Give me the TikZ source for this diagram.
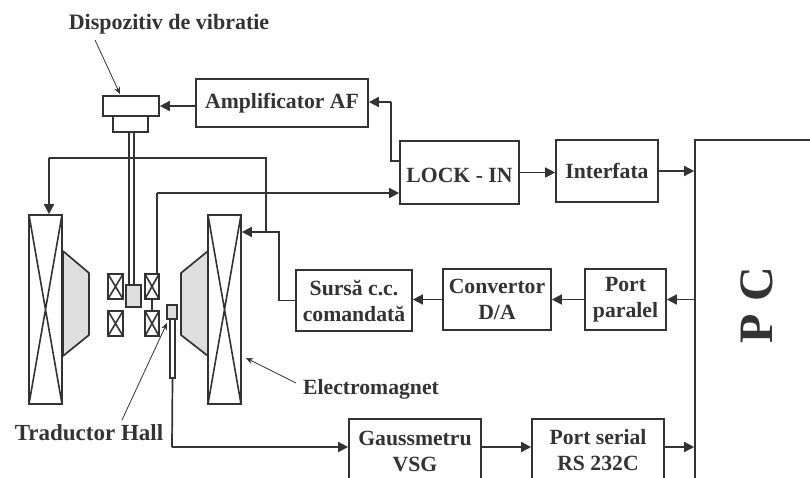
\documentclass[tikz,border=0pt]{standalone}
\usepackage{fontspec}
\setmainfont{Liberation Serif}
\usetikzlibrary{arrows.meta,calc}
\definecolor{ink}{HTML}{333333}
\definecolor{polegray}{HTML}{DEDEDE}
\tikzset{
  ink line/.style={draw=ink,line width=1.7pt},
  blockbox/.style={ink line,rectangle,inner sep=0pt,align=center,font=\bfseries\fontsize{21.7}{26}\selectfont,text=ink},
  label text/.style={inner sep=0pt,font=\bfseries\fontsize{22}{24}\selectfont,text=ink},
  plain box/.style={ink line,rectangle,inner sep=0pt,fill=white},
  gray box/.style={ink line,rectangle,inner sep=0pt,fill=polegray},
  xbox/.style={ink line,rectangle,inner sep=0pt,fill=white,path picture={
     \draw[ink,line width=1.6pt] (path picture bounding box.north west)--(path picture bounding box.south east)
       (path picture bounding box.north east)--(path picture bounding box.south west);}},
  wire/.style={draw=ink,line width=1.7pt,-{Triangle[length=10pt,width=10pt]}},
  plainwire/.style={draw=ink,line width=1.7pt},
  thin arrow/.style={draw=ink,line width=0.8pt,-{Stealth[length=7pt,width=6pt]}},
  pole/.style={draw=ink,line width=1.7pt,fill=polegray,line join=round}
}
\newcommand{\bx}[7][blockbox]{% style, name, x0,y0,x1,y1, text
  \node[#1,minimum width={#5pt-#3pt},minimum height={#6pt-#4pt}] (#2) at ({(#3+#5)/2},{(#4+#6)/2}) {#7};}
\begin{document}
\begin{tikzpicture}[x=1pt,y=-1pt]
\useasboundingbox (0,0) rectangle (810,477);
\fill[white] (0,0) rectangle (810,477);
\clip (0,0) rectangle (810,477);
% poles
\draw[pole] (63,251) -- (89,273) -- (89,335) -- (63,356) -- cycle;
\draw[pole] (208,251) -- (181,273) -- (181,335) -- (208,356) -- cycle;
% rod
\bx[plain box]{rod}{129}{132}{134}{285}{}
% blocks
\bx{amp}{196}{79}{368}{127}{Amplificator AF}
\bx{lock}{400}{141}{519}{204}{\rule{0pt}{21pt}LOCK - IN}
\bx{inter}{556}{140}{658}{202}{Interfata}
\bx{pc}{695}{140}{840}{510}{}
\bx{sursa}{296}{270}{412}{331}{Sursă c.c.\\comandată}
\bx{conv}{443}{269}{551}{330}{Convertor\\D/A}
\bx{port}{585}{269}{666}{330}{Port\\paralel}
\bx{gauss}{349}{419}{481}{484}{Gaussmetru\\VSG}
\bx{serial}{532}{419}{664}{482}{Port serial\\RS 232C}
\node[inner sep=0pt,rotate=90,font=\bfseries\fontsize{48}{48}\selectfont,text=ink] (pctext) at (757,305) {P C};
% vibration device
\bx[plain box]{vibb}{113}{116}{148}{132}{}
\bx[plain box]{vibt}{103}{96}{159}{116}{}
% electromagnet coils
\bx[xbox]{coilL}{29}{215}{62}{404}{}
\bx[xbox]{coilR}{208}{215}{241}{404}{}
% small coils
\bx[xbox]{cLa}{108}{274}{123}{299}{}
\bx[xbox]{cLb}{108}{311}{123}{336}{}
\bx[xbox]{cRa}{145}{274}{159}{299}{}
\bx[xbox]{cRb}{145}{311}{159}{336}{}
\bx[gray box]{sample}{126}{285}{141}{307}{}
\bx[plain box]{stem}{170}{319}{175}{378}{}
\bx[gray box]{hall}{167}{305}{177}{319}{}
% labels
\node[label text] (dv) at (169,24) {Dispozitiv de vibratie};
\node[label text,font=\bfseries\fontsize{21.7}{24}\selectfont] (em) at (371,389) {Electromagnet};
\node[label text,font=\bfseries\fontsize{23}{24}\selectfont] (th) at (89,433) {Traductor Hall};
% connector helpers
\coordinate (jr) at (279,232);
\coordinate (jv) at (266,232);
\coordinate (wt) at (266,158);
\coordinate (wl) at (49,158);
\coordinate (lockup) at (391,161);
\coordinate (ampin) at (391,102);
\coordinate (ltop) at (157,193);
\coordinate (gin) at (172,447);
% connectors
\draw[wire] (amp.west |- vibt.east) -- (vibt.east);
\draw[wire] (sursa.west) -| (jr) -- (jr -| coilR.east);
\draw[plainwire] (jv) -- (wt) -- (wl);
\draw[wire] (wl) -- (wl |- coilL.north);
\draw[plainwire] (lock.west |- lockup) -- (lockup) -- (ampin);
\draw[wire] (ampin) -- (ampin -| amp.east);
\draw[plainwire] (cRa.north -| ltop) -- (ltop);
\draw[wire] (ltop) -- (ltop -| lock.west);
\draw[plainwire] (cRa.south) -- (cRb.north);
\draw[wire] (lock.east) -- (lock.east -| inter.west);
\draw[wire] (inter.east) -- (inter.east -| pc.west);
\draw[wire] (pc.west |- port.east) -- (port.east);
\draw[wire] (port.west) -- (port.west -| conv.east);
\draw[wire] (conv.west) -- (conv.west -| sursa.east);
\draw[plainwire] (stem.south) -- (gin);
\draw[wire] (gin) -- (gin -| gauss.west);
\draw[wire] (gauss.east |- gin) -- (gin -| serial.west);
\draw[wire] (serial.east |- gin) -- (gin -| pc.west);
% leader arrows
\draw[thin arrow] (95,40) -- (120,94);
\draw[thin arrow] (296,383) -- (246,358);
\draw[thin arrow] (122,420) -- (167,323);
\end{tikzpicture}
\end{document}
